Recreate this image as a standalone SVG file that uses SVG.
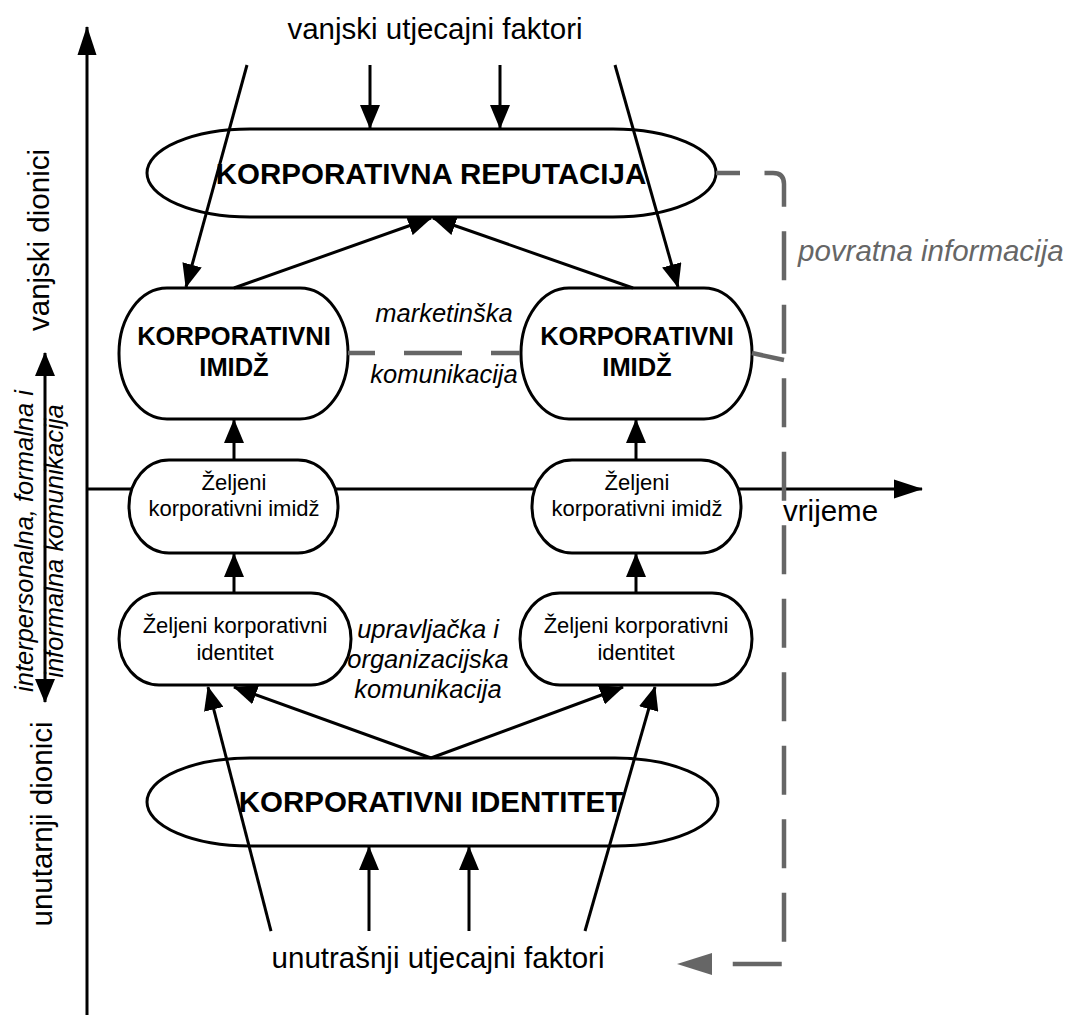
<svg xmlns="http://www.w3.org/2000/svg" width="1068" height="1019" viewBox="0 0 1068 1019">
<style>
.ln{stroke:#000;stroke-width:3;fill:none}
.nd{fill:#fff;stroke:#000;stroke-width:3}
.t{font-family:"Liberation Sans",Arial,sans-serif;fill:#000}
.b{font-weight:bold}
.i{font-style:italic}
.g{stroke:#666;stroke-width:4.5;fill:none}
</style>
<defs>
<marker id="ah" markerUnits="userSpaceOnUse" markerWidth="24" markerHeight="20" refX="23" refY="10" orient="auto-start-reverse"><path d="M0,0 L24,10 L0,20 Z" fill="#000"/></marker>
<marker id="ax" markerUnits="userSpaceOnUse" markerWidth="29" markerHeight="20" refX="28" refY="10" orient="auto"><path d="M0,0.5 L29,10 L0,19.5 Z" fill="#000"/></marker>
<marker id="ag" markerUnits="userSpaceOnUse" markerWidth="35" markerHeight="22" refX="0" refY="11" orient="auto"><path d="M0,0 L35,11 L0,22 Z" fill="#666"/></marker>
</defs>
<rect width="1068" height="1019" fill="#fff"/>

<g id="axes">
<line class="ln" x1="87" y1="1015" x2="87" y2="27" marker-end="url(#ax)"/>
<line class="ln" x1="87" y1="489" x2="922" y2="489" marker-end="url(#ax)"/>
<line class="ln" x1="45" y1="353" x2="45" y2="702" marker-start="url(#ah)" marker-end="url(#ah)"/>
<text class="t" font-size="29.5" transform="translate(49,240) rotate(-90)" text-anchor="middle">vanjski dionici</text>
<text class="t" font-size="29.5" transform="translate(52,824) rotate(-90)" text-anchor="middle">unutarnji dionici</text>
<text class="t i" font-size="25.5" transform="translate(33,541) rotate(-90)" text-anchor="middle">interpersonalna, formalna i</text>
<text class="t i" font-size="25.5" transform="translate(63,541) rotate(-90)" text-anchor="middle">informalna komunikacija</text>
<text class="t" font-size="29.5" x="783" y="521">vrijeme</text>
</g>

<g id="labels">
<text class="t" font-size="29.5" x="435" y="39" text-anchor="middle">vanjski utjecajni faktori</text>
<text class="t" font-size="29.5" x="438" y="968" text-anchor="middle">unutrašnji utjecajni faktori</text>
<text class="t i" font-size="29.5" x="798" y="261" style="fill:#666">povratna informacija</text>
<text class="t i" font-size="25.5" x="444" y="322" text-anchor="middle">marketinška</text>
<text class="t i" font-size="25.5" x="444" y="383" text-anchor="middle">komunikacija</text>
<text class="t i" font-size="25.5" x="428" y="638" text-anchor="middle">upravljačka i</text>
<text class="t i" font-size="25.5" x="428" y="668" text-anchor="middle">organizacijska</text>
<text class="t i" font-size="25.5" x="428" y="698" text-anchor="middle">komunikacija</text>
</g>

<g id="n-reputacija">
<rect class="nd" x="147" y="129" width="569" height="88" rx="103" ry="44"/>
<text class="t b" font-size="29.5" x="431" y="184" text-anchor="middle">KORPORATIVNA REPUTACIJA</text>
</g>
<g id="n-imidz-l">
<rect class="nd" x="119" y="288" width="229" height="131" rx="48" ry="65"/>
<text class="t b" font-size="25.5" x="234" y="345" text-anchor="middle">KORPORATIVNI</text>
<text class="t b" font-size="25.5" x="234" y="376" text-anchor="middle">IMIDŽ</text>
</g>
<g id="n-imidz-r">
<rect class="nd" x="521" y="288" width="231" height="131" rx="48" ry="65"/>
<text class="t b" font-size="25.5" x="637" y="345" text-anchor="middle">KORPORATIVNI</text>
<text class="t b" font-size="25.5" x="637" y="376" text-anchor="middle">IMIDŽ</text>
</g>
<g id="n-zimidz-l">
<rect class="nd" x="129" y="460" width="209" height="93" rx="40" ry="46"/>
<text class="t" font-size="22" x="234" y="490" text-anchor="middle">Željeni</text>
<text class="t" font-size="22" x="234" y="516" text-anchor="middle">korporativni imidž</text>
</g>
<g id="n-zimidz-r">
<rect class="nd" x="532" y="460" width="209" height="93" rx="40" ry="46"/>
<text class="t" font-size="22" x="637" y="490" text-anchor="middle">Željeni</text>
<text class="t" font-size="22" x="637" y="516" text-anchor="middle">korporativni imidž</text>
</g>
<g id="n-zident-l">
<rect class="nd" x="119" y="593" width="232" height="92" rx="40" ry="46"/>
<text class="t" font-size="22" x="235" y="633" text-anchor="middle">Željeni korporativni</text>
<text class="t" font-size="22" x="235" y="660" text-anchor="middle">identitet</text>
</g>
<g id="n-zident-r">
<rect class="nd" x="520" y="593" width="232" height="92" rx="40" ry="46"/>
<text class="t" font-size="22" x="636" y="633" text-anchor="middle">Željeni korporativni</text>
<text class="t" font-size="22" x="636" y="660" text-anchor="middle">identitet</text>
</g>
<g id="n-identitet">
<rect class="nd" x="147" y="758" width="571" height="88" rx="103" ry="44"/>
<text class="t b" font-size="29.5" x="431" y="812" text-anchor="middle">KORPORATIVNI IDENTITET</text>
</g>

<g id="connectors">
<line class="ln" x1="247" y1="65" x2="186" y2="287" marker-end="url(#ah)"/>
<line class="ln" x1="370" y1="65" x2="370" y2="128" marker-end="url(#ah)"/>
<line class="ln" x1="500" y1="65" x2="500" y2="128" marker-end="url(#ah)"/>
<line class="ln" x1="615" y1="65" x2="678" y2="287" marker-end="url(#ah)"/>
<line class="ln" x1="234" y1="288" x2="431" y2="218" marker-end="url(#ah)"/>
<line class="ln" x1="633" y1="288" x2="433" y2="218" marker-end="url(#ah)"/>
<line class="ln" x1="234" y1="460" x2="234" y2="420" marker-end="url(#ah)"/>
<line class="ln" x1="636" y1="460" x2="636" y2="420" marker-end="url(#ah)"/>
<line class="ln" x1="234" y1="593" x2="234" y2="554" marker-end="url(#ah)"/>
<line class="ln" x1="636" y1="593" x2="636" y2="554" marker-end="url(#ah)"/>
<line class="ln" x1="431" y1="758" x2="234" y2="687" marker-end="url(#ah)"/>
<line class="ln" x1="431" y1="758" x2="623" y2="687" marker-end="url(#ah)"/>
<line class="ln" x1="271" y1="931" x2="208" y2="687" marker-end="url(#ah)"/>
<line class="ln" x1="585" y1="931" x2="655" y2="687" marker-end="url(#ah)"/>
<line class="ln" x1="369" y1="931" x2="369" y2="847" marker-end="url(#ah)"/>
<line class="ln" x1="469" y1="931" x2="469" y2="847" marker-end="url(#ah)"/>
<path class="g" d="M348,353 H520" stroke-dasharray="58 29" stroke-dashoffset="31"/>
<path class="g" d="M716,173 H773 Q784,173 784,184 V964 H712" stroke-dasharray="49 24.5" stroke-dashoffset="25" marker-end="url(#ag)"/>
<line class="g" x1="752" y1="353" x2="784" y2="360"/>
</g>
</svg>
